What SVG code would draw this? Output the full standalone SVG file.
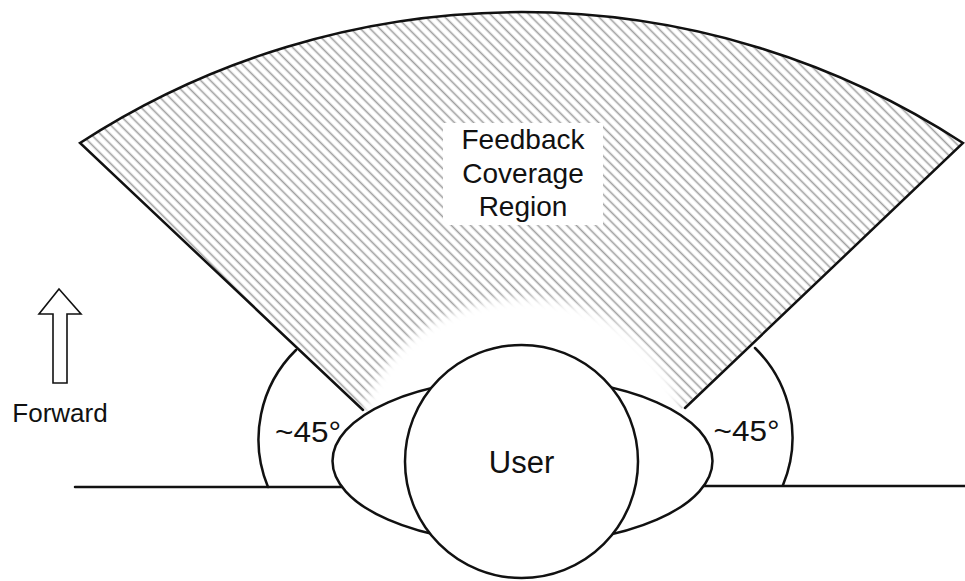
<svg xmlns="http://www.w3.org/2000/svg" width="965" height="581" viewBox="0 0 965 581">
  <style>
    .ln { fill: none; stroke: #111; stroke-width: 2.5; stroke-linecap: round; }
    .shape { fill: #fff; stroke: #111; stroke-width: 2.5; }
    .txt { font-family: "Liberation Sans", Arial, sans-serif; fill: #111; text-anchor: middle; }
  </style>
  <defs>
    <pattern id="hatch" width="6.8" height="10" patternUnits="userSpaceOnUse" patternTransform="rotate(-45)">
      <rect width="6.8" height="10" fill="#fff"/>
      <line x1="3.4" y1="0" x2="3.4" y2="10" stroke="#a0a0a0" stroke-width="1.6"/>
    </pattern>
    <filter id="soft" x="-20%" y="-20%" width="140%" height="140%">
      <feGaussianBlur stdDeviation="5"/>
    </filter>
    <mask id="cut" maskUnits="userSpaceOnUse" x="0" y="0" width="965" height="581">
      <rect width="965" height="581" fill="#fff"/>
      <ellipse cx="523" cy="452" rx="166" ry="154" fill="#000" filter="url(#soft)"/>
    </mask>
  </defs>

  <rect width="965" height="581" fill="#fff"/>

  <g id="coverage-region">
    <path d="M80,143 A810,810 0 0 1 963,143 L521.5,560 Z" fill="url(#hatch)" mask="url(#cut)"/>
    <path class="ln" d="M363,410 L80,143 A810,810 0 0 1 963,143 L685,408"/>
    <rect x="443" y="123" width="160" height="102" fill="#fff"/>
    <text class="txt" font-size="28" x="523" y="149">Feedback</text>
    <text class="txt" font-size="28" x="523" y="183">Coverage</text>
    <text class="txt" font-size="28" x="523" y="216">Region</text>
  </g>

  <g id="connectors">
    <line class="ln" x1="75" y1="487" x2="342" y2="487"/>
    <line class="ln" x1="703" y1="486" x2="965" y2="486"/>
  </g>

  <g id="angle-left">
    <path class="ln" d="M296,350 A125,125 0 0 0 268,487"/>
    <text class="txt" font-size="29" x="308" y="442" textLength="66" lengthAdjust="spacingAndGlyphs">~45°</text>
  </g>

  <g id="angle-right">
    <path class="ln" d="M755,348 A125,125 0 0 1 783,485"/>
    <text class="txt" font-size="29" x="746.5" y="441" textLength="66" lengthAdjust="spacingAndGlyphs">~45°</text>
  </g>

  <g id="user">
    <ellipse class="shape" cx="522.5" cy="461" rx="190" ry="83"/>
    <circle class="shape" cx="521.5" cy="461.5" r="116.5"/>
    <text class="txt" font-size="31" x="521.5" y="473">User</text>
  </g>

  <g id="forward">
    <polygon points="59,289 81,314 67,314 67,383 53,383 53,314 39,314" fill="#fff" stroke="#111" stroke-width="1.6" stroke-linejoin="miter"/>
    <text class="txt" font-size="26" x="60" y="422">Forward</text>
  </g>
</svg>
